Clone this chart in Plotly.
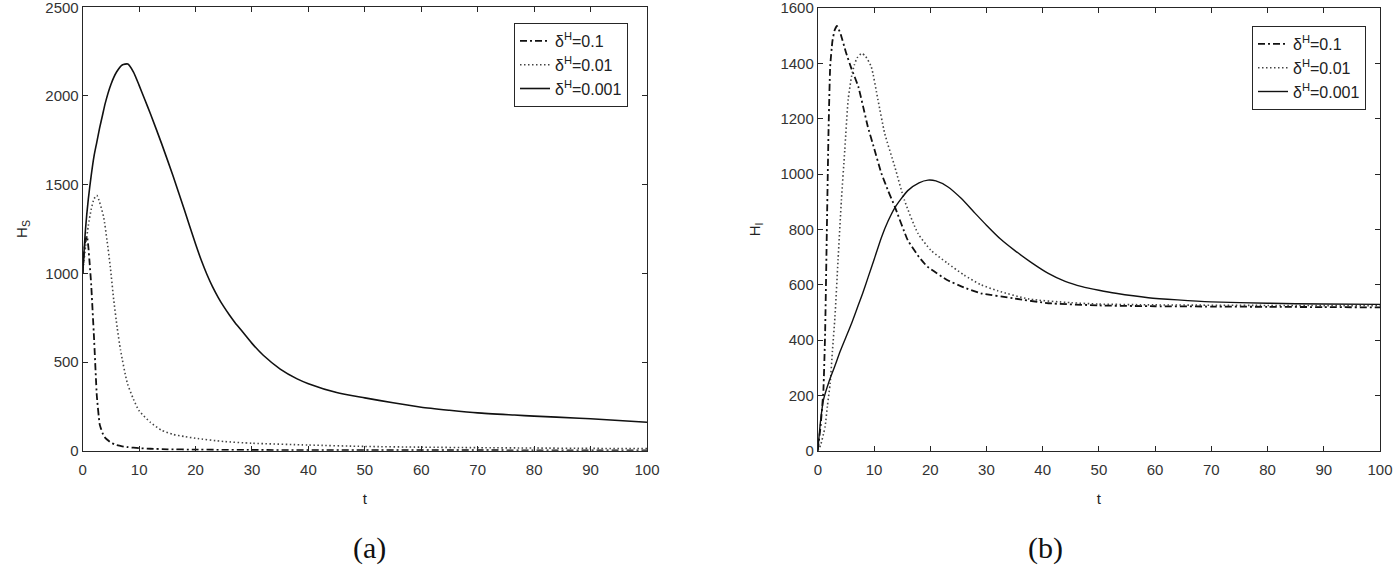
import plotly.graph_objects as go

# ---------------- data: panel (a) H_S ----------------
t_s_01 = [0, 0.25, 0.5, 0.75, 1, 1.25, 1.5, 2, 2.5, 3, 3.5, 4, 5, 6, 7, 8, 10, 12, 15, 20, 30, 50, 70, 100]
hs_01 = [1000, 1120, 1190, 1210, 1150, 1050, 940, 640, 310, 150, 100, 72, 45, 32, 25, 20, 14, 11, 8, 6, 4, 3, 2.5, 2]

t_s_001 = [0, 0.5, 1, 1.5, 2, 2.5, 3, 3.7, 4.3, 4.9, 5.5, 6.1, 6.7, 7.9, 9, 10, 12, 14, 16, 18, 20, 25, 30, 40, 50, 60, 70, 80, 90, 100]
hs_001 = [1000, 1150, 1270, 1360, 1420, 1440, 1400, 1319, 1188, 1034, 849, 697, 568, 382, 290, 225, 160, 115, 92, 80, 70, 52, 42, 32, 24, 20, 17, 15, 13, 12]

t_s_0001 = [0, 0.5, 1, 1.5, 2, 2.5, 3, 3.5, 4, 5, 6, 7, 8, 9, 10, 11, 12, 14, 16, 18, 20, 21, 22, 23, 24, 25, 26, 27, 28, 30, 32, 35, 38, 40, 45, 50, 55, 60, 65, 70, 76.5, 80, 88, 90, 100]
hs_0001 = [1000, 1250, 1420, 1550, 1660, 1740, 1820, 1890, 1960, 2065, 2135, 2175, 2180, 2135, 2060, 1980, 1900, 1730, 1550, 1360, 1165, 1075, 995, 925, 865, 812, 765, 722, 683, 605, 538, 460, 405, 378, 328, 298, 270, 245, 228, 213, 201, 195, 183, 180, 160]

# ---------------- data: panel (b) H_I ----------------
t_i_01 = [0, 0.5, 1, 1.3, 1.6, 1.9, 2.2, 2.6, 3, 3.4, 4, 5, 6, 7.2, 8.9, 10, 11.3, 12.5, 13.7, 16, 18, 19.5, 23, 26, 29, 35, 41, 50, 60, 70, 80, 90, 100]
hi_01 = [0, 90, 220, 425, 786, 1148, 1388, 1480, 1520, 1535, 1510, 1440, 1380, 1316, 1171, 1094, 1003, 940, 882, 761, 700, 665, 617, 590, 569, 550, 533, 525, 522, 521, 520, 519, 518]

t_i_001 = [0, 0.5, 1, 1.3, 1.7, 2.2, 2.6, 3.05, 3.6, 4.2, 4.8, 5.4, 6, 6.5, 7, 7.8, 8.5, 9.5, 10.7, 11.9, 13.7, 15.4, 17.8, 20.1, 23.1, 26, 29, 32, 37.6, 45, 50, 60, 80, 100]
hi_001 = [0, 20, 60, 87, 160, 244, 360, 484, 689, 906, 1087, 1268, 1352, 1394, 1420, 1436, 1425, 1388, 1268, 1147, 1026, 906, 786, 725, 677, 635, 600, 578, 548, 535, 530, 527, 525, 524]

t_i_0001 = [0, 0.5, 1, 2, 3, 4, 5, 6, 7, 8, 9, 10, 11.3, 12.5, 13.7, 16, 18, 19.6, 21, 23.1, 25.5, 27.8, 30, 32.5, 35, 38, 41, 44, 47, 50, 53, 58.8, 64, 70, 80, 90, 100]
hi_0001 = [0, 110, 183, 250, 304, 360, 410, 460, 515, 570, 630, 690, 770, 830, 878, 940, 968, 978, 975, 954, 912, 862, 815, 765, 724, 680, 641, 612, 593, 580, 569, 553, 545, 538, 533, 530, 529]

labels = ["δ<sup>H</sup>=0.1", "δ<sup>H</sup>=0.01", "δ<sup>H</sup>=0.001"]

FONT = "Liberation Sans, Arial, sans-serif"
SERIF = "Liberation Serif, DejaVu Serif, serif"
dashdot = "7px,3px,2px,3px"
dotted = "1.5px,2.5px"

fig = go.Figure()

def add(x, y, name, dash, color, width, xa, ya, legend, smooth=0.6):
    fig.add_trace(go.Scatter(x=x, y=y, mode="lines", name=name,
                             line=dict(color=color, width=width, dash=dash,
                                       shape="spline", smoothing=smooth),
                             xaxis=xa, yaxis=ya, legend=legend))

add(t_s_01, hs_01, labels[0], dashdot, "#111111", 1.8, "x", "y", "legend", 0.3)
add(t_s_001, hs_001, labels[1], dotted, "#444444", 1.6, "x", "y", "legend")
add(t_s_0001, hs_0001, labels[2], "solid", "#111111", 1.6, "x", "y", "legend")

add(t_i_01, hi_01, labels[0], dashdot, "#111111", 1.8, "x2", "y2", "legend2", 0.4)
add(t_i_001, hi_001, labels[1], dotted, "#444444", 1.6, "x2", "y2", "legend2")
add(t_i_0001, hi_0001, labels[2], "solid", "#111111", 1.4, "x2", "y2", "legend2")

W, H = 1396, 567
ybot = 1 - 450.7 / H
ytop = 1 - 7.3 / H

axis_common = dict(showline=True, linecolor="#262626", linewidth=1, mirror="ticks",
                   ticks="inside", ticklen=5, tickcolor="#262626", showgrid=False,
                   zeroline=False, automargin=False, ticklabeloverflow="allow",
                   tickfont=dict(family=FONT, size=15, color="#333333"))
title_font = dict(size=15, family=FONT, color="#222222")
legend_common = dict(xanchor="right", yanchor="top", bordercolor="#262626", borderwidth=1,
                     bgcolor="white", font=dict(family=FONT, size=16, color="#222222"),
                     tracegroupgap=0)

fig.update_layout(
    width=W, height=H,
    margin=dict(l=0, r=0, t=0, b=0, autoexpand=False),
    paper_bgcolor="white", plot_bgcolor="white",
    font=dict(family=FONT, color="#222222"),
    xaxis=dict(domain=[82.7 / W, 647 / W], range=[0, 100], dtick=10, anchor="y",
               ticklabelstandoff=5,
               title=dict(text="t", font=title_font, standoff=16), **axis_common),
    yaxis=dict(domain=[ybot, ytop], range=[0, 2500.01], tickvals=[0, 500, 1000, 1500, 2000, 2500],
               anchor="x", title=dict(text="H<sub>S</sub>", font=title_font, standoff=14), **axis_common),
    xaxis2=dict(domain=[817.8 / W, 1380 / W], range=[0, 100], dtick=10, anchor="y2",
                ticklabelstandoff=5,
                title=dict(text="t", font=title_font, standoff=16), **axis_common),
    yaxis2=dict(domain=[ybot, 1 - 8 / H], range=[0, 1600.01],
                tickvals=[0, 200, 400, 600, 800, 1000, 1200, 1400, 1600], anchor="x2",
                title=dict(text="H<sub>I</sub>", font=title_font, standoff=16), **axis_common),
    legend=dict(x=628 / W, y=1 - 23 / H, **legend_common),
    legend2=dict(x=1366 / W, y=1 - 26 / H, **legend_common),
    showlegend=True,
    annotations=[
        dict(text="(a)", x=369 / W, y=1 - 548 / H, xref="paper", yref="paper",
             xanchor="center", yanchor="middle",
             showarrow=False, font=dict(family=SERIF, size=30, color="#111111")),
        dict(text="(b)", x=1045 / W, y=1 - 548 / H, xref="paper", yref="paper",
             xanchor="center", yanchor="middle",
             showarrow=False, font=dict(family=SERIF, size=30, color="#111111")),
    ],
)

fig.write_html("out.html", config={"displayModeBar": False},
               post_script="document.body.style.margin='0';document.body.style.overflow='hidden';")
